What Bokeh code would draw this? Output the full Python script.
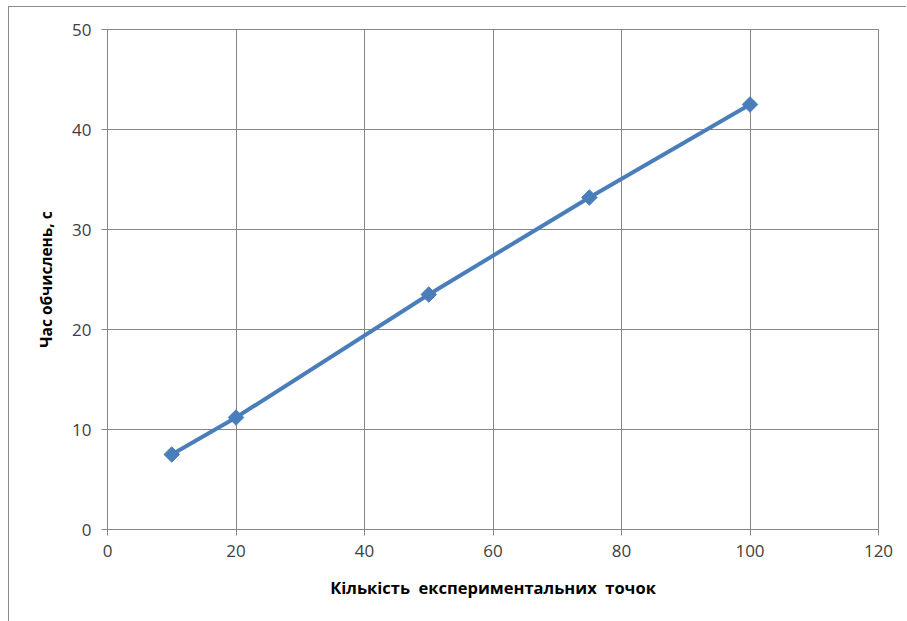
import math
from bokeh.plotting import figure
from bokeh.models import Range1d, FixedTicker
from bokeh.embed import file_html
from bokeh.resources import INLINE

# Кількість експериментальних точок та час обчислень
points = [10, 20, 50, 75, 100]
seconds = [7.5, 11.2, 23.5, 33.2, 42.5]

x_ticks = [0, 20, 40, 60, 80, 100, 120]
y_ticks = [0, 10, 20, 30, 40, 50]

GRID = "#868686"
BLUE = "#4a7ebb"
FONT = "Open Sans"

p = figure(
    width=898, height=615,
    x_range=Range1d(0, 120), y_range=Range1d(0, 50),
    output_backend="svg", toolbar_location=None,
    min_border_left=98, min_border_top=22,
    min_border_right=29, min_border_bottom=93,
    margin=(6, 0, 0, 8),
    styles={"border-left": "1px solid #8c8c8c", "border-top": "1px solid #8c8c8c"},
)
p.outline_line_color = GRID
p.outline_line_width = 1

for ax, ticks in ((p.xaxis[0], x_ticks), (p.yaxis[0], y_ticks)):
    ax.ticker = FixedTicker(ticks=ticks)
    ax.axis_line_color = GRID
    ax.major_tick_line_color = GRID
    ax.major_tick_out = 6
    ax.major_tick_in = 0
    ax.minor_tick_line_color = None
    ax.major_label_text_font = FONT
    ax.major_label_text_font_size = "17px"
    ax.major_label_text_color = "#404040"
    ax.axis_label_text_font = FONT
    ax.axis_label_text_font_style = "bold"
    ax.axis_label_text_color = "#000000"

p.xaxis.axis_label_text_font_size = "16.5px"
p.yaxis.axis_label_text_font_size = "15.5px"

# Подвійні пробіли між словами підпису осі X
p.xaxis.axis_label = "Кількість\u00a0 експериментальних\u00a0 точок"
p.yaxis.axis_label = "Час обчислень, с"
p.xaxis.major_label_standoff = 9
p.yaxis.major_label_standoff = 10
p.xaxis.axis_label_standoff = 16
p.yaxis.axis_label_standoff = 12

p.xgrid.ticker = FixedTicker(ticks=x_ticks)
p.ygrid.ticker = FixedTicker(ticks=y_ticks)
p.xgrid.grid_line_color = GRID
p.ygrid.grid_line_color = GRID

p.line(points, seconds, line_color=BLUE, line_width=4)
p.scatter(points, seconds, marker="square", size=11, angle=math.pi / 4,
          fill_color=BLUE, line_color=BLUE)

open("out.html", "w").write(file_html(p, INLINE))
